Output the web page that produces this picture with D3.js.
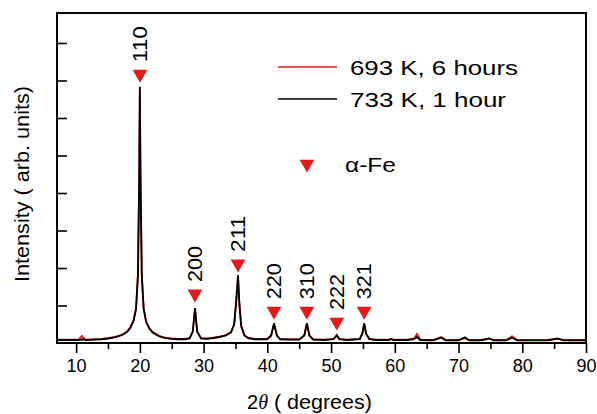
<!DOCTYPE html>
<html>
<head>
<meta charset="utf-8">
<script src="https://cdn.jsdelivr.net/npm/d3@7"></script>
<style>
  body { margin: 0; background: #fff; }
  text { font-family: Arial, "Liberation Sans", sans-serif; }
</style>
</head>
<body>
<script>
// 733 K, 1 hour (black) - [2theta, intensity]
var black733 = [
  [7, 0.08], [9, 0.08], [10.5, 0.08], [11, 0.1], [11.5, 0.08], [13, 0.09],
  [14, 0.1], [15, 0.12], [16, 0.15], [17, 0.2], [17.5, 0.24], [18, 0.3],
  [18.5, 0.4], [19, 0.58], [19.4, 0.9], [19.7, 1.8], [19.9, 4.5], [20.0, 6.83],
  [20.1, 4.5], [20.3, 1.8], [20.6, 0.9], [21.0, 0.55], [21.5, 0.38], [22, 0.28],
  [23, 0.18], [24, 0.13], [25, 0.11], [26, 0.1], [27, 0.1], [27.8, 0.12],
  [28.3, 0.3], [28.65, 0.93], [29.0, 0.3], [29.6, 0.12], [30.5, 0.11], [31.5, 0.13],
  [32.5, 0.16], [33.5, 0.2], [34.3, 0.28], [34.8, 0.5], [35.1, 1.1], [35.4, 1.81],
  [35.6, 1.1], [35.9, 0.45], [36.4, 0.2], [37, 0.13], [38, 0.1], [39, 0.1],
  [40, 0.1], [40.6, 0.2], [41.05, 0.53], [41.5, 0.2], [42, 0.1], [43.5, 0.09],
  [45, 0.09], [45.8, 0.2], [46.2, 0.53], [46.6, 0.2], [47.2, 0.09], [49, 0.08],
  [50.4, 0.1], [50.9, 0.21], [51.3, 0.1], [52.5, 0.08], [54.5, 0.1], [54.9, 0.25],
  [55.2, 0.53], [55.5, 0.25], [56, 0.1], [57, 0.08], [59, 0.08], [59.4, 0.1],
  [59.8, 0.08], [62, 0.08], [63, 0.1], [63.5, 0.16], [64, 0.08], [66, 0.07],
  [67.3, 0.14], [68, 0.07], [70, 0.07], [71, 0.15], [71.7, 0.07], [73.5, 0.07],
  [74.8, 0.12], [75.5, 0.07], [77.5, 0.07], [78.4, 0.14], [79.2, 0.07], [84, 0.07],
  [85.5, 0.12], [86.5, 0.07], [90, 0.07]
];

// 693 K, 6 hours (red)
var red693 = [
  [7, 0.09], [9, 0.09], [10.4, 0.09], [10.9, 0.19], [11.4, 0.09], [13, 0.1],
  [14, 0.11], [15, 0.13], [16, 0.16], [17, 0.21], [17.5, 0.25], [18, 0.31],
  [18.5, 0.42], [19, 0.6], [19.4, 0.92], [19.7, 1.85], [19.9, 4.4], [20.0, 6.75],
  [20.1, 4.4], [20.3, 1.85], [20.6, 0.92], [21.0, 0.57], [21.5, 0.4], [22, 0.3],
  [23, 0.19], [24, 0.14], [25, 0.12], [26, 0.11], [27, 0.11], [27.8, 0.13],
  [28.3, 0.3], [28.65, 0.9], [29.0, 0.3], [29.6, 0.13], [30.5, 0.12], [31.5, 0.14],
  [32.5, 0.17], [33.5, 0.21], [34.3, 0.29], [34.8, 0.5], [35.1, 1.05], [35.4, 1.75],
  [35.6, 1.05], [35.9, 0.45], [36.4, 0.21], [37, 0.14], [38, 0.11], [39, 0.11],
  [40, 0.11], [40.6, 0.2], [41.05, 0.5], [41.5, 0.2], [42, 0.11], [43.5, 0.1],
  [45, 0.1], [45.8, 0.2], [46.2, 0.5], [46.6, 0.2], [47.2, 0.1], [49, 0.09],
  [50.4, 0.11], [50.9, 0.2], [51.3, 0.11], [52.5, 0.09], [54.5, 0.11], [54.9, 0.25],
  [55.2, 0.5], [55.5, 0.25], [56, 0.11], [57, 0.09], [59, 0.09], [59.4, 0.11],
  [59.8, 0.09], [62, 0.09], [63, 0.12], [63.5, 0.24], [64, 0.09], [66, 0.08],
  [67.3, 0.16], [68, 0.08], [70, 0.08], [71, 0.13], [71.7, 0.08], [73.5, 0.08],
  [74.8, 0.12], [75.5, 0.08], [77.5, 0.08], [78.4, 0.18], [79.2, 0.08], [84, 0.08],
  [85.5, 0.11], [86.5, 0.08], [90, 0.08]
];

// alpha-Fe reflections: label, position, marker level
var peakLabels = ["110", "200", "211", "220", "310", "222", "321"];
var peakPos = [20.02, 28.65, 35.4, 41.05, 46.2, 50.9, 55.2];
var peakMark = [7.01, 1.15, 1.95, 0.69, 0.69, 0.4, 0.69];

var xTicks = [10, 20, 30, 40, 50, 60, 70, 80, 90];
var xMinor = [15, 25, 35, 45, 55, 65, 75, 85];
var yTicks = [1, 2, 3, 4, 5, 6, 7, 8];

var W = 597, H = 414;
var margin = { top: 13, right: 11, bottom: 71, left: 57 };

var svg = d3.select("body").append("svg")
    .attr("width", W)
    .attr("height", H);

var x = d3.scaleLinear().domain([7, 90]).range([margin.left, W - margin.right]);
var y = d3.scaleLinear().domain([0, 8.8]).range([H - margin.bottom, margin.top]);

var line = d3.line()
    .x(function(d) { return x(d[0]); })
    .y(function(d) { return y(d[1]); });

svg.append("path")
    .datum(red693)
    .attr("d", line)
    .attr("fill", "none")
    .attr("stroke", "#e31a1c")
    .attr("stroke-width", 1.8);

svg.append("path")
    .datum(black733)
    .attr("d", line)
    .attr("fill", "none")
    .attr("stroke", "#000")
    .attr("stroke-width", 1.8);

// x axis: major and minor ticks pointing out
var xAxis = svg.append("g")
    .attr("transform", "translate(0," + (H - margin.bottom) + ")")
    .call(d3.axisBottom(x).tickValues(xTicks).tickSize(10).tickPadding(6));
xAxis.selectAll(".tick text").attr("font-size", 18).attr("font-family", "Arial, 'Liberation Sans', sans-serif");

svg.append("g")
    .attr("transform", "translate(0," + (H - margin.bottom) + ")")
    .call(d3.axisBottom(x).tickValues(xMinor).tickSize(6).tickFormat(""));

// y axis: inward ticks, no labels
svg.append("g")
    .attr("transform", "translate(" + margin.left + ",0)")
    .call(d3.axisRight(y).tickValues(yTicks).tickSize(10).tickFormat(""));

svg.selectAll(".tick line").attr("stroke-width", 1.6);
svg.selectAll(".domain").remove();

// frame
svg.append("rect")
    .attr("x", margin.left)
    .attr("y", margin.top)
    .attr("width", W - margin.left - margin.right)
    .attr("height", H - margin.top - margin.bottom)
    .attr("fill", "none")
    .attr("stroke", "#000")
    .attr("stroke-width", 2);

// peak markers
var tri = d3.symbol().type(d3.symbolTriangle).size(95);

peakLabels.forEach(function(lab, i) {
    var px = x(peakPos[i]), py = y(peakMark[i]) - 6;
    svg.append("path")
        .attr("d", tri)
        .attr("transform", "translate(" + px + "," + py + ") rotate(180)")
        .attr("fill", "#e31a1c");
    svg.append("text")
        .attr("transform", "translate(" + (px + 7) + "," + (py - 12) + ") rotate(-90)")
        .attr("font-size", 21)
        .attr("textLength", 36)
        .attr("lengthAdjust", "spacingAndGlyphs")
        .text(lab);
});

// legend
svg.append("line").attr("x1", 278).attr("x2", 337).attr("y1", 67).attr("y2", 67)
    .attr("stroke", "#e31a1c").attr("stroke-width", 1.4);
svg.append("text").attr("x", 350).attr("y", 75).attr("font-size", 21)
    .attr("textLength", 168).attr("lengthAdjust", "spacingAndGlyphs").text("693 K, 6 hours");
svg.append("line").attr("x1", 278).attr("x2", 337).attr("y1", 99).attr("y2", 99)
    .attr("stroke", "#000").attr("stroke-width", 1.6);
svg.append("text").attr("x", 350).attr("y", 107).attr("font-size", 21)
    .attr("textLength", 156).attr("lengthAdjust", "spacingAndGlyphs").text("733 K, 1 hour");

svg.append("path")
    .attr("d", tri)
    .attr("transform", "translate(307,164) rotate(180)")
    .attr("fill", "#e31a1c");
svg.append("text").attr("x", 345).attr("y", 172).attr("font-size", 21)
    .attr("textLength", 51).attr("lengthAdjust", "spacingAndGlyphs").text("α-Fe");

// axis titles
svg.append("text")
    .attr("transform", "translate(29,184) rotate(-90)")
    .attr("text-anchor", "middle")
    .attr("font-size", 20)
    .attr("textLength", 196)
    .attr("lengthAdjust", "spacingAndGlyphs")
    .text("Intensity  ( arb. units)");

var xt = svg.append("text")
    .attr("x", 247)
    .attr("y", 409)
    .attr("font-size", 20);
xt.append("tspan").text("2");
xt.append("tspan").attr("font-style", "italic").attr("font-family", "'Times New Roman', 'Liberation Serif', serif").text("θ");
xt.append("tspan").attr("textLength", 104).attr("lengthAdjust", "spacingAndGlyphs").text("  ( degrees)");
</script>
</body>
</html>
